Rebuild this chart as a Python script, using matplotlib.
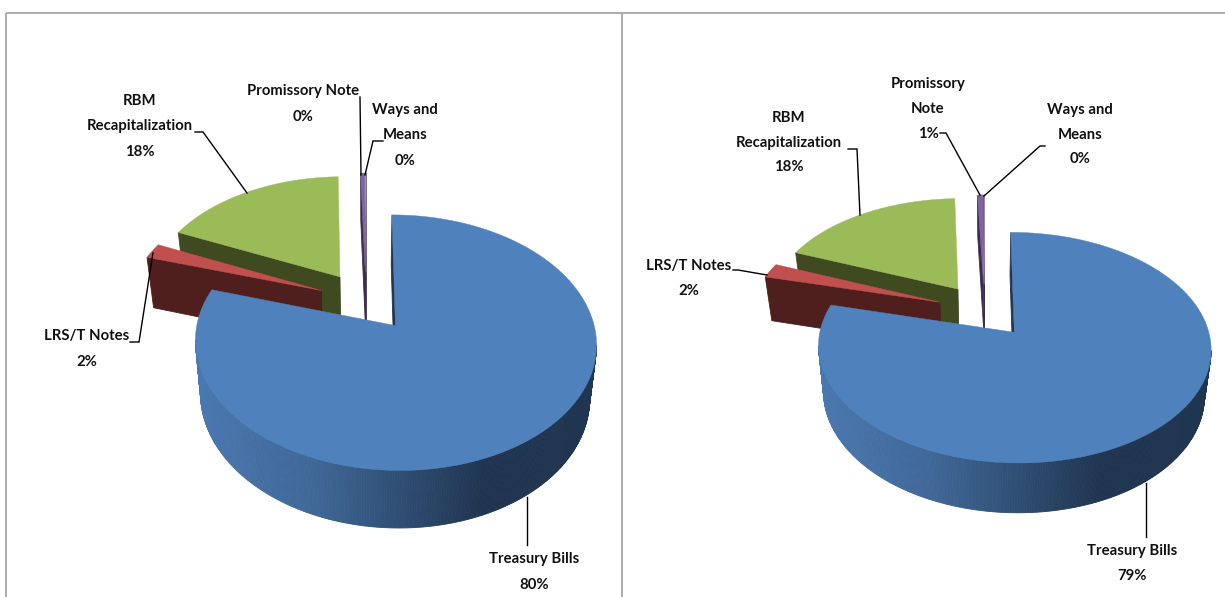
import numpy as np
import matplotlib
matplotlib.use("Agg")
import matplotlib.pyplot as plt
from matplotlib.colors import to_rgb

# ---- data (percent of total, clockwise from 12 o'clock) ----
categories = ["Treasury Bills", "LRS/T Notes", "RBM Recapitalization", "Promissory Note", "Ways and Means"]
values_left = [79.8, 2.0, 17.75, 0.40, 0.05]
values_right = [79.0, 2.1, 18.3, 0.55, 0.05]
labels_left = ["80%", "2%", "18%", "0%", "0%"]
labels_right = ["79%", "2%", "18%", "1%", "0%"]

top_colors = ["#4f81bd", "#c0504d", "#9bbb59", "#8064a2", "#b3a2c7"]
wall_colors = ["#1f3550", "#4f1f1e", "#3f4a21", "#3b2e4b", "#3b2e4b"]
EXPLODE = 0.25
K = 0.13

fig = plt.figure(figsize=(12.25, 5.97), dpi=100, facecolor="white")
ax = fig.add_axes([0, 0, 1, 1])
ax.set_xlim(0, 1225)
ax.set_ylim(597, 0)
ax.axis("off")

FONT = ["Lato", "Liberation Sans", "DejaVu Sans"]


def gradient(f):
    stops = [0.0, 0.3, 0.72, 1.0]
    cols = np.array([to_rgb(c) for c in ["#4a78b0", "#3f6796", "#1f3550", "#1f3550"]])
    return tuple(np.interp(f, stops, cols[:, i]) for i in range(3))


def draw_pie(values, X0, Y0, a, b, depth, shrink=0.97):
    def top(U, V):
        w = 1 - K * V
        return X0 + a * U / w, Y0 + b * V / w, w

    def drop(x, y, w):
        return X0 + shrink * (x - X0), y + depth / w ** 0.6

    fr = np.cumsum([0] + list(values)) / np.sum(values) * 2 * np.pi
    order = [4, 3, 2, 1, 0]
    for i in order:
        t0, t1 = fr[i], fr[i + 1]
        mid = (t0 + t1) / 2
        cu, cv = EXPLODE * np.sin(mid), -EXPLODE * np.cos(mid)
        th = np.linspace(t0, t1, max(3, int((t1 - t0) * 90)))
        U = np.r_[cu, cu + np.sin(th)]
        V = np.r_[cv, cv - np.cos(th)]
        px, py, pw = top(U, V)
        # walls: an edge faces the viewer when the clockwise outline runs leftwards
        n = len(px)
        span = (px.min(), px.max())
        for j in range(n):
            q = (j + 1) % n
            if px[q] < px[j]:
                bx0, by0 = drop(px[j], py[j], pw[j])
                bx1, by1 = drop(px[q], py[q], pw[q])
                is_arc = 1 <= j < n - 1
                if i == 0 and is_arc:
                    col = gradient((px[j] - span[0]) / (span[1] - span[0]))
                else:
                    col = wall_colors[i]
                ax.fill([px[j], px[q], bx1, bx0], [py[j], py[q], by1, by0],
                        facecolor=col, edgecolor=col, linewidth=0.6, zorder=2 + (4 - i))
        ax.fill(px, py, facecolor=top_colors[i], edgecolor=top_colors[i],
                linewidth=0.3, zorder=2.5 + (4 - i))


draw_pie(values_left, 366, 301, 193.5, 119, 52)
draw_pie(values_right, 984.5, 310.5, 189.5, 107.5, 45)

# frame
for xs, ys in [([6, 6], [597, 13]), ([6, 1225], [13, 13]), ([622, 622], [13, 597])]:
    ax.plot(xs, ys, color="#a6a6a6", lw=1.3, zorder=1, solid_capstyle="butt")


def label(cx, ys, lines):
    for y, s in zip(ys, lines):
        ax.text(cx, y + 1, s, ha="center", va="center", fontsize=10.7, fontweight="bold",
                family=FONT, color="#111111", zorder=20)


def leader(xs, ys):
    ax.plot(xs, ys, color="black", lw=1.0, zorder=15, solid_joinstyle="miter")


# left labels
label(140, [100, 125, 151], ["RBM", "Recapitalization", labels_left[2]])
label(303, [90, 116], ["Promissory Note", labels_left[3]])
label(405, [109, 134, 160], ["Ways and", "Means", labels_left[4]])
label(87, [335, 361], [categories[1], labels_left[1]])
label(534, [558, 584], [categories[0], labels_left[0]])
leader([195, 203, 247], [132, 132, 193])
leader([360, 361], [97, 175])
leader([383, 373, 365], [141, 141, 175])
leader([130, 139, 153], [342, 342, 253])
leader([527, 527], [497, 545])

# right labels
label(789, [117, 142, 166], ["RBM", "Recapitalization", labels_right[2]])
label(928, [83, 108, 133], ["Promissory", "Note", labels_right[3]])
label(1080, [109, 134, 158], ["Ways and", "Means", labels_right[4]])
label(689, [265, 290], [categories[1], labels_right[1]])
label(1132, [550, 575], [categories[0], labels_right[0]])
leader([848, 857, 860], [149, 149, 215])
leader([940, 946, 980], [133, 133, 195])
leader([1045, 1040, 984], [146, 146, 196])
leader([733, 738, 767], [270, 270, 275])
leader([1146, 1146], [483, 537])

fig.savefig("out.png", dpi=100)
